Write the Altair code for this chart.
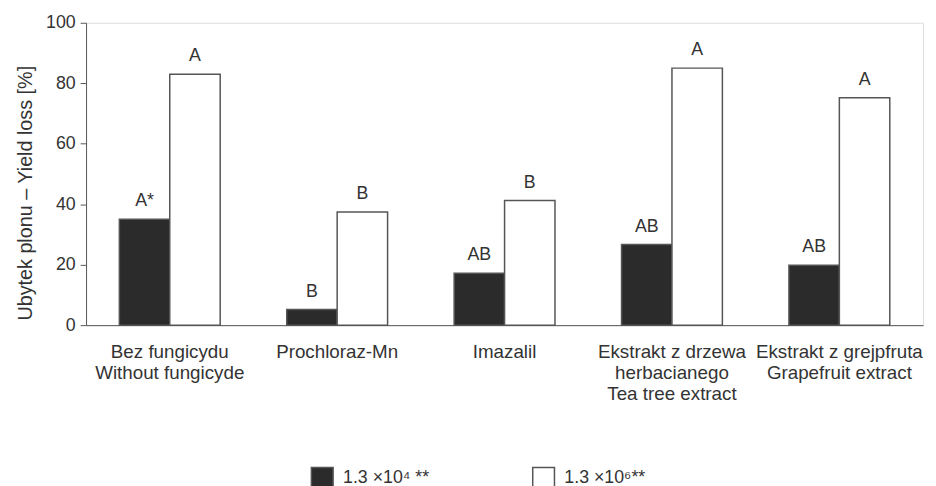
import altair as alt
import pandas as pd

treatments = [
    "Bez fungicydu\nWithout  fungicyde",
    "Prochloraz-Mn",
    "Imazalil",
    "Ekstrakt z drzewa\nherbacianego\nTea tree extract",
    "Ekstrakt z grejpfruta\nGrapefruit extract",
]
series = ["1.3 ×10⁴ **", "1.3 ×10⁶**"]
low_dose = [35.0, 5.2, 17.2, 26.7, 19.8]
high_dose = [83.0, 37.4, 41.2, 85.0, 75.2]
low_letters = ["A*", "B", "AB", "AB", "AB"]
high_letters = ["A", "B", "B", "A", "A"]

rows = []
for i, t in enumerate(treatments):
    rows.append({"t": t, "s": series[0], "v": low_dose[i], "lab": low_letters[i]})
    rows.append({"t": t, "s": series[1], "v": high_dose[i], "lab": high_letters[i]})
df = pd.DataFrame(rows)

FONT = "Liberation Sans"
TXT = "#333333"
LINE = "#555555"

x = alt.X("t:N", sort=treatments, title=None,
          scale=alt.Scale(paddingInner=0, paddingOuter=0),
          axis=alt.Axis(labelAngle=0, ticks=False, labelExpr="split(datum.label, '\\n')",
                        labelFontSize=19, labelColor=TXT, labelFont=FONT, labelLineHeight=21,
                        labelPadding=18, domainColor=LINE, labelLimit=300))
xo = alt.XOffset("s:N", sort=series, scale=alt.Scale(paddingInner=0, paddingOuter=0.66))
y = alt.Y("v:Q", title="Ubytek plonu – Yield loss [%]",
          scale=alt.Scale(domain=[0, 100], nice=False),
          axis=alt.Axis(values=[0, 20, 40, 60, 80, 100], grid=False, tickSize=6,
                        tickColor=LINE, domainColor=LINE, labelFontSize=18, labelColor=TXT,
                        labelFont=FONT, titleFont=FONT, titleFontSize=20, titleColor=TXT,
                        titleFontWeight="normal", labelPadding=5, titlePadding=10,
                        titleY=172))

bars = alt.Chart(df).mark_bar(stroke=LINE, strokeWidth=1.5).encode(
    x=x, xOffset=xo, y=y,
    fill=alt.Fill("s:N", sort=series, title=None,
                  scale=alt.Scale(domain=series, range=["#2b2b2b", "#ffffff"]),
                  legend=alt.Legend(orient="none", legendX=227, legendY=449,
                                    direction="horizontal", columns=2, columnPadding=101,
                                    symbolType="square", symbolSize=484,
                                    symbolStrokeColor=LINE, symbolStrokeWidth=1.5,
                                    labelFontSize=18, labelColor=TXT, labelFont=FONT,
                                    labelOffset=9)),
)

labels = alt.Chart(df).mark_text(baseline="bottom", dy=-9, fontSize=18, font=FONT,
                                 color=TXT).encode(
    x=alt.X("t:N", sort=treatments), xOffset=alt.XOffset("s:N", sort=series),
    y="v:Q", text="lab:N")

chart = (bars + labels).properties(
    width=847, height=306,
    padding={"left": 7, "top": 3, "right": 5, "bottom": 5},
).configure_view(stroke=LINE, strokeWidth=1.5).configure(font=FONT)

chart.save("out.html", embed_options={"renderer": "svg", "actions": False})
